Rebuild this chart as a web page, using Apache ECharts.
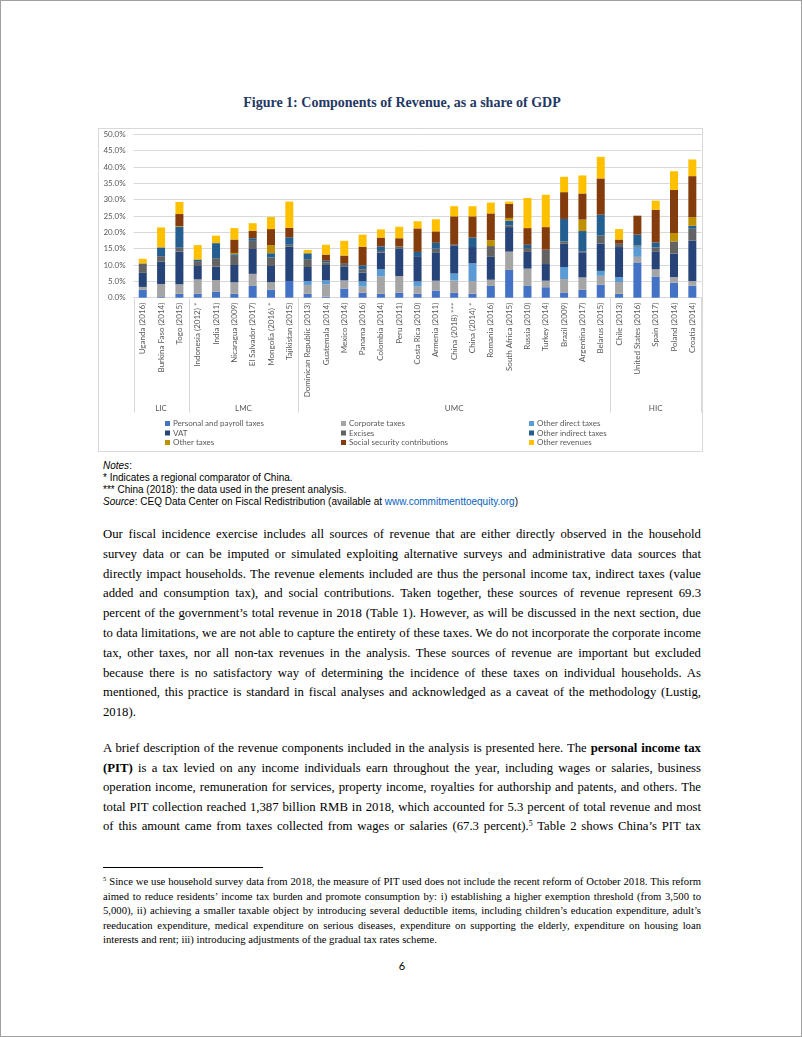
<!DOCTYPE html>
<html>
<head>
<meta charset="utf-8">
<script src="https://cdn.jsdelivr.net/npm/echarts@6/dist/echarts.min.js"></script>
<style>
  html, body { margin:0; padding:0; background:#fff; }
  #page { position:relative; width:800px; height:1035px; border:1px solid #a0a0a0; overflow:hidden; background:#fff; }
  .abs { position:absolute; }
  #title { left:0; width:802px; top:94px; text-align:center; font-family:"Liberation Serif","Times New Roman",serif; font-weight:bold; font-size:14px; color:#1F3864; }
  #chart { left:97px; top:127px; width:605px; height:324px; border:1px solid #D9D9D9; box-sizing:border-box; }
  .note { left:102px; font-family:"Liberation Sans",Arial,sans-serif; font-size:10px; color:#000; line-height:12px; white-space:nowrap; }
  .bl { position:absolute; left:102px; width:598px; height:20px; line-height:20px; font-family:"Liberation Serif","Times New Roman",serif; font-size:13px; color:#000; text-align:justify; white-space:nowrap; }
  .fl { position:absolute; left:102px; width:598px; height:14px; line-height:14px; font-family:"Liberation Serif","Times New Roman",serif; font-size:10.5px; color:#000; text-align:justify; white-space:nowrap; }
  sup { font-size:0.62em; line-height:0; vertical-align:0.55em; }
  #rule { left:102px; top:866px; width:160px; height:1px; background:#000; }
  #pnum { left:0; width:802px; top:958px; text-align:center; font-family:"Lato","Open Sans",sans-serif; font-size:11px; color:#000; }
</style>
</head>
<body>
<div id="page">
  <div id="title" class="abs">Figure 1: Components of Revenue, as a share of GDP</div>
  <div id="chart" class="abs"></div>

  <div class="abs note" style="top:459px;"><i>Notes</i>:</div>
  <div class="abs note" style="top:471px;">* Indicates a regional comparator of China.</div>
  <div class="abs note" style="top:483px;">*** China (2018): the data used in the present analysis.</div>
  <div class="abs note" style="top:495px;"><i>Source</i>: CEQ Data Center on Fiscal Redistribution (available at <span style="color:#0563C1">www.commitmenttoequity.org</span>)</div>

  <div id="body"></div>
  <div id="rule" class="abs"></div>
  <div id="foot"></div>
  <div id="pnum" class="abs">6</div>
</div>

<script>
// ---------------- DATA ----------------
const categories = [
  'Uganda (2016)','Burkina Faso (2014)','Togo (2015)',
  'Indonesia (2012) *','India (2011)','Nicaragua (2009)','El Salvador (2017)','Mongolia (2016) *','Tajikistan (2015)',
  'Dominican Republic (2013)','Guatemala (2014)','Mexico (2014)','Panama (2016)','Colombia (2014)','Peru (2011)',
  'Costa Rica (2010)','Armenia (2011)','China (2018) ***','China (2014) *','Romania (2016)','South Africa (2015)',
  'Russia (2010)','Turkey (2014)','Brazil (2009)','Argentina (2017)','Belarus (2015)',
  'Chile (2013)','United States (2016)','Spain (2017)','Poland (2014)','Croatia (2014)'
];
const groupNames = ['LIC','LMC','UMC','HIC'];
const groupSizes = [3, 6, 17, 5];

const personalPayroll = [2.4,0.2,1.2,1.2,1.8,1.2,3.6,2.5,5.1,1.2,0.3,2.8,1.5,1.2,1.5,1.2,2.2,1.5,1.2,3.6,8.5,3.6,3.2,1.6,2.4,4.0,1.2,10.8,6.5,4.6,3.7];
const corporate       = [0.9,4.0,2.9,4.4,3.6,3.5,3.7,2.3,0,2.7,3.8,2.5,1.9,5.3,5.1,2.2,3.0,3.8,3.9,1.9,5.6,5.3,2.0,4.1,3.8,2.7,3.6,1.7,2.2,1.7,1.4];
const otherDirect     = [0,0,0,0,0,0,0,0,0,1.2,1.2,0,1.6,2.2,0,1.6,0,2.1,5.4,0,0,0,0,3.7,0,1.5,1.5,3.1,0,0,0];
const vat             = [4.3,6.8,10.0,4.1,4.1,5.3,7.6,4.9,10.5,4.3,4.7,4.3,2.7,5.1,8.5,7.7,8.7,8.6,5.0,7.0,7.5,5.1,5.1,7.1,7.7,8.4,9.2,0,5.5,7.2,12.4];
const excises         = [2.9,1.7,1.2,1.5,2.6,2.8,2.5,2.6,0.6,2.4,0.8,1.0,1.0,0.5,0.6,0,1.1,0,0,3.3,0.5,1.2,4.4,0.7,0.3,2.4,1.0,0.4,1.2,3.7,3.6];
const otherIndirect   = [0,2.7,6.4,0.5,4.6,0.5,0.8,1.3,2.3,1.8,0.5,0,1.2,1.4,0,1.3,1.8,0.2,2.9,0,1.5,1.0,0,6.9,6.2,6.4,0,3.3,1.5,0,0.9];
const otherTaxes      = [0,0,0.2,0,0,0.4,0,2.5,0,0,0,0,0,0,0,0,0,0,0,1.8,0.8,0,0,0,3.5,0,0,0,0,2.6,2.6];
const socialSecurity  = [0,0,3.7,0,0,4.1,2.3,4.9,2.9,0,1.9,2.3,5.7,2.7,2.5,7.2,3.5,8.7,6.5,8.2,4.3,5.1,6.9,8.2,8.0,11.1,1.3,5.8,10.0,13.2,12.6];
const otherRevenues   = [1.4,6.1,3.7,4.4,2.3,3.5,2.3,3.7,8.0,1.0,3.0,4.5,3.7,2.5,3.5,2.2,3.7,3.1,3.1,3.3,0.7,9.2,9.9,4.7,5.5,6.6,3.2,0,2.8,5.7,5.1];

const seriesNames = ['Personal and payroll taxes','Corporate taxes','Other direct taxes','VAT','Excises','Other indirect taxes','Other taxes','Social security contributions','Other revenues'];
const seriesData = [personalPayroll, corporate, otherDirect, vat, excises, otherIndirect, otherTaxes, socialSecurity, otherRevenues];
const seriesColors = ['#4472C4','#A5A5A5','#5B9BD5','#264478','#636363','#255E91','#BF9000','#843C0C','#FFC000'];

const yTicks = {min:0, max:50, interval:5};

// ---------------- TEXT ----------------
const bodyLines = [
  {y:533, t:'Our fiscal incidence exercise includes all sources of revenue that are either directly observed in the household'},
  {y:552.8, t:'survey data or can be imputed or simulated exploiting alternative surveys and administrative data sources that'},
  {y:572.6, t:'directly impact households. The revenue elements included are thus the personal income tax, indirect taxes (value'},
  {y:592.4, t:'added and consumption tax), and social contributions. Taken together, these sources of revenue represent 69.3'},
  {y:612.2, t:'percent of the government\u2019s total revenue in 2018 (Table 1). However, as will be discussed in the next section, due'},
  {y:632, t:'to data limitations, we are not able to capture the entirety of these taxes. We do not incorporate the corporate income'},
  {y:651.8, t:'tax, other taxes, nor all non-tax revenues in the analysis. These sources of revenue are important but excluded'},
  {y:671.6, t:'because there is no satisfactory way of determining the incidence of these taxes on individual households. As'},
  {y:691.4, t:'mentioned, this practice is standard in fiscal analyses and acknowledged as a caveat of the methodology (Lustig,'},
  {y:711.2, t:'2018).', last:true},
  {y:747, h:'A brief description of the revenue components included in the analysis is presented here. The <b>personal income tax</b>'},
  {y:766.5, h:'<b>(PIT)</b> is a tax levied on any income individuals earn throughout the year, including wages or salaries, business'},
  {y:786, t:'operation income, remuneration for services, property income, royalties for authorship and patents, and others. The'},
  {y:805.5, t:'total PIT collection reached 1,387 billion RMB in 2018, which accounted for 5.3 percent of total revenue and most'},
  {y:825, h:'of this amount came from taxes collected from wages or salaries (67.3 percent).<sup>5</sup> Table 2 shows China\u2019s PIT tax'}
];
const footLines = [
  {y:880, h:'<sup>5</sup> Since we use household survey data from 2018, the measure of PIT used does not include the recent reform of October 2018. This reform'},
  {y:894.5, t:'aimed to reduce residents\u2019 income tax burden and promote consumption by: i) establishing a higher exemption threshold (from 3,500 to'},
  {y:909, t:'5,000), ii) achieving a smaller taxable object by introducing several deductible items, including children\u2019s education expenditure, adult\u2019s'},
  {y:923.5, t:'reeducation expenditure, medical expenditure on serious diseases, expenditure on supporting the elderly, expenditure on housing loan'},
  {y:938, t:'interests and rent; iii) introducing adjustments of the gradual tax rates scheme.', last:true}
];

function esc(s){ return s.replace(/&/g,'&amp;').replace(/</g,'&lt;'); }
function buildLines(container, lines, cls, lh){
  const c = document.getElementById(container);
  lines.forEach(l => {
    const d = document.createElement('div');
    d.className = cls;
    d.style.top = (l.y - lh/2) + 'px';
    d.dataset.last = l.last ? '1' : '0';
    d.innerHTML = '<span>' + (l.h || esc(l.t)) + '</span>';
    c.appendChild(d);
  });
}
function fit(cls, base){
  const els = [...document.querySelectorAll('.' + cls)];
  els.forEach(e => { e.style.fontSize = base + 'px'; e.style.textAlignLast = 'left'; });
  let maxR = 0;
  els.forEach(e => { if (e.dataset.last !== '1') { const w = e.querySelector('span').getBoundingClientRect().width; maxR = Math.max(maxR, w / 598); } });
  const size = maxR > 0.992 ? base * 0.992 / maxR : base;
  els.forEach(e => { e.style.fontSize = size + 'px'; e.style.textAlignLast = e.dataset.last === '1' ? 'left' : 'justify'; });
}
buildLines('body', bodyLines, 'bl', 20);
buildLines('foot', footLines, 'fl', 14);
fit('bl', 13.6);
fit('fl', 10.8);

// ---------------- CHART ----------------
const chart = echarts.init(document.getElementById('chart'), null, {renderer:'canvas'});
const FONT = 'Lato, "Open Sans", sans-serif';
const legendCols = [[0,3,6],[1,4,7],[2,5,8]];
const legendLefts = [66, 242, 430];

const option = {
  animation: false,
  textStyle: { fontFamily: FONT },
  grid: { left: 34.6, right: 0.5, top: 5.3, bottom: 153.3 },
  xAxis: {
    type: 'category',
    data: categories,
    axisLine: { lineStyle: { color: '#D9D9D9', width: 1 } },
    axisTick: { show: false },
    axisLabel: { interval: 0, rotate: 90, fontSize: 8, color: '#595959', margin: 5, fontFamily: FONT }
  },
  yAxis: {
    type: 'value',
    min: yTicks.min, max: yTicks.max, interval: yTicks.interval,
    axisLine: { show: false }, axisTick: { show: false },
    splitLine: { lineStyle: { color: '#D9D9D9', width: 1 } },
    axisLabel: { formatter: v => v.toFixed(1) + '%', fontSize: 8, color: '#595959', margin: 8, fontFamily: FONT }
  },
  legend: legendCols.map((col, k) => ({
    orient: 'vertical',
    left: legendLefts[k],
    top: 290,
    itemWidth: 5, itemHeight: 5, itemGap: 0.5,
    icon: 'rect',
    textStyle: { fontSize: 8, color: '#595959', lineHeight: 9, padding: [0,0,0,-2], fontFamily: FONT },
    padding: 0,
    data: col.map(i => seriesNames[i])
  })),
  series: seriesNames.map((n, i) => ({
    name: n,
    type: 'bar',
    stack: 'rev',
    barWidth: 8,
    itemStyle: { color: seriesColors[i] },
    data: seriesData[i]
  }))
};
chart.setOption(option);

// group separators & labels from the category scale
function drawGroups(){
  const c0 = chart.convertToPixel({xAxisIndex:0}, 0);
  const c1 = chart.convertToPixel({xAxisIndex:0}, 1);
  const bw = c1 - c0;
  const y0 = chart.convertToPixel({yAxisIndex:0}, 0);
  const yEnd = y0 + 115;
  const yLabel = y0 + 110.5;
  const elements = [];
  let start = 0;
  const bounds = [0];
  groupSizes.forEach((s, g) => {
    const end = start + s;
    bounds.push(end);
    const xMid = (chart.convertToPixel({xAxisIndex:0}, start) + chart.convertToPixel({xAxisIndex:0}, end - 1)) / 2;
    elements.push({ type:'text', x: xMid, y: yLabel, style: { text: groupNames[g], fill:'#595959', font: '8px ' + FONT, textAlign:'center', textVerticalAlign:'middle' } });
    start = end;
  });
  bounds.forEach(b => {
    const x = Math.round(c0 - bw/2 + b*bw) + 0.5;
    elements.push({ type:'line', shape:{ x1:x, y1:y0, x2:x, y2:yEnd }, style:{ stroke:'#D9D9D9', lineWidth:1 } });
  });
  chart.setOption({ graphic: elements });
}
drawGroups();
</script>
</body>
</html>
